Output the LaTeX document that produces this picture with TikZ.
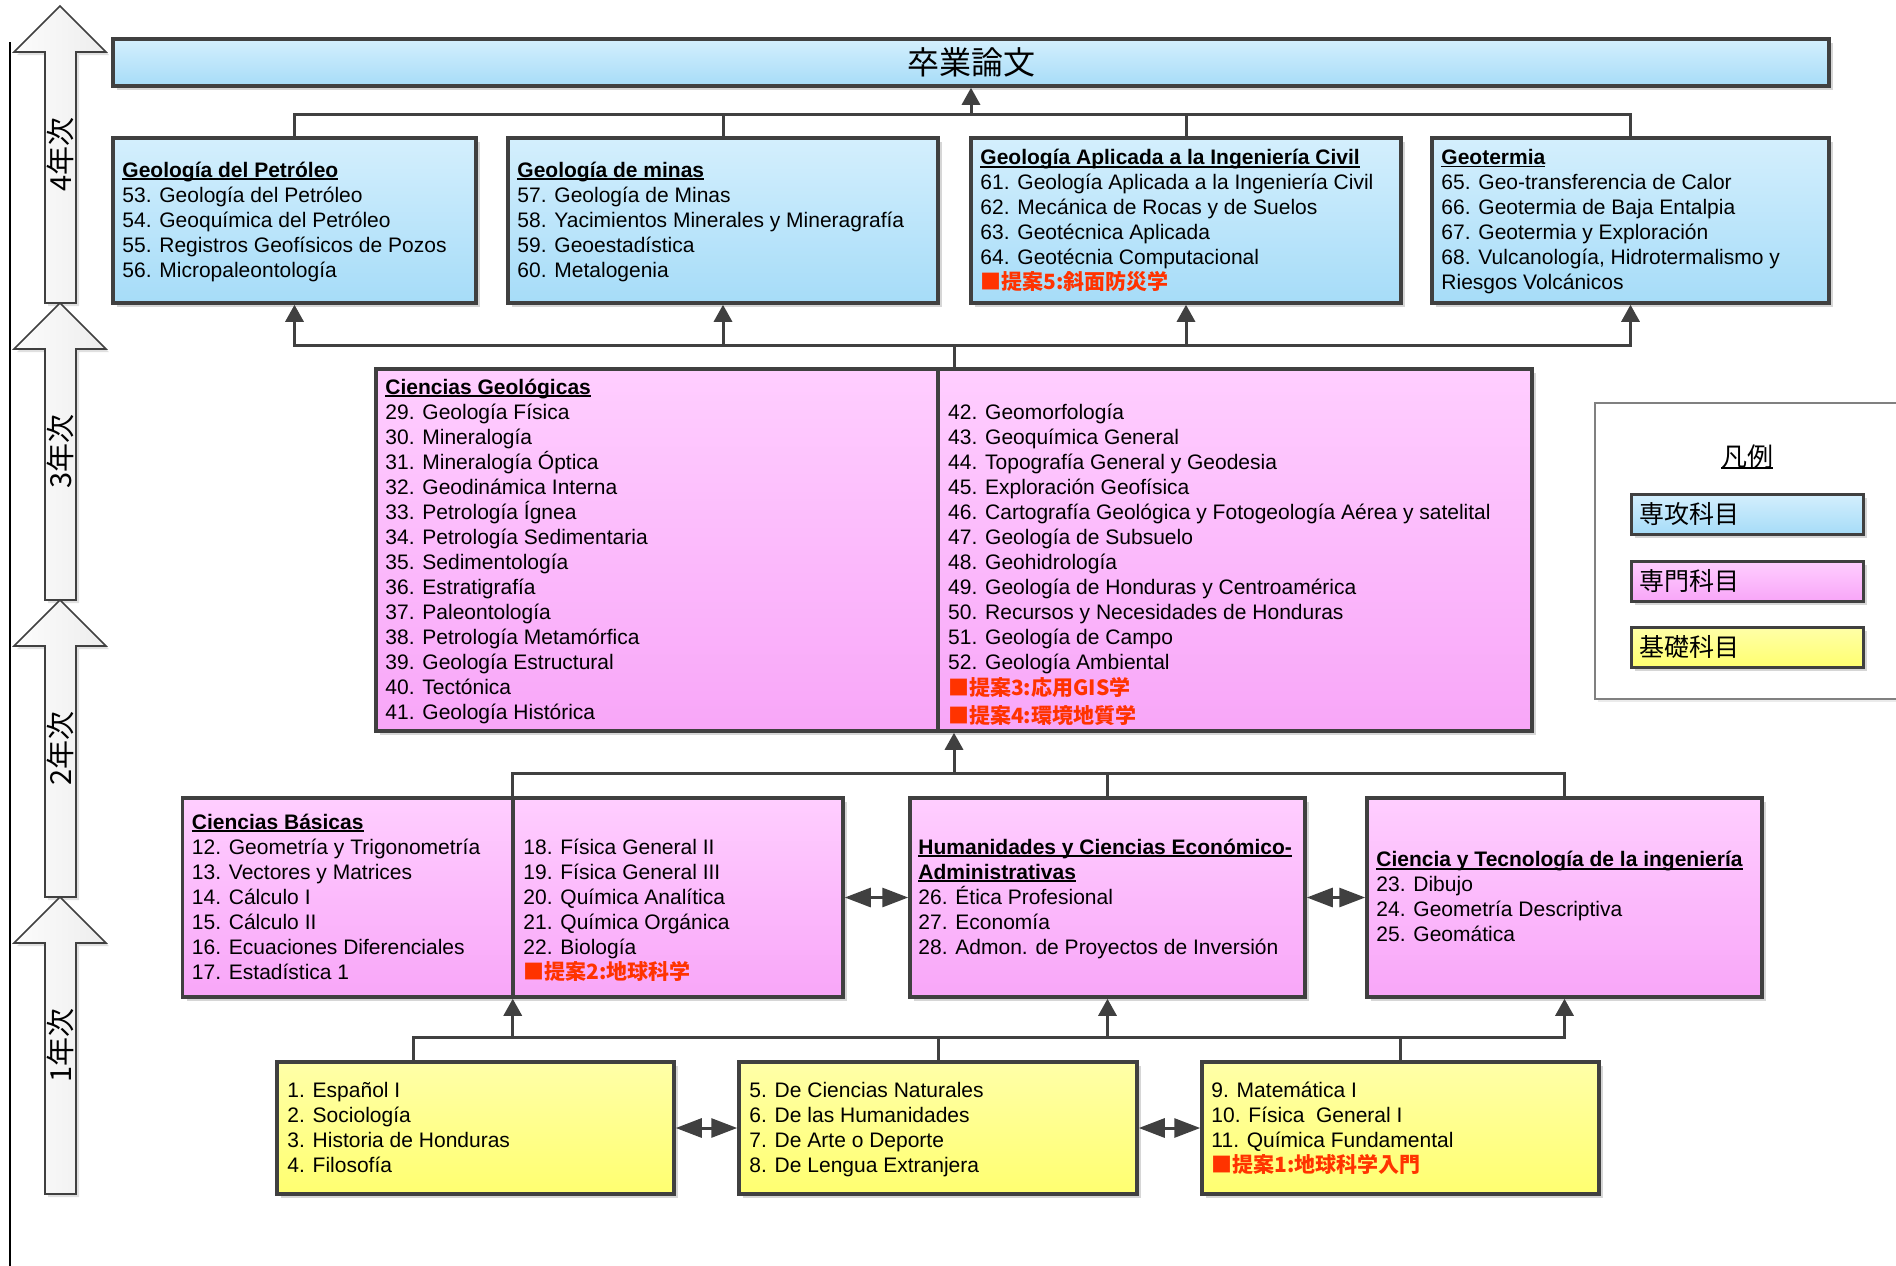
\documentclass[tikz,border=0pt]{standalone}
\usepackage{fontspec}
\setmainfont{Liberation Sans}
\newfontfamily\jp{Noto Sans CJK JP}
\usetikzlibrary{arrows.meta,shadows}

\definecolor{edge}{HTML}{404040}
\definecolor{blueT}{HTML}{D4EFFD}
\definecolor{blueB}{HTML}{A6DCF8}
\definecolor{pinkT}{HTML}{FFCEFF}
\definecolor{pinkB}{HTML}{F8A6F8}
\definecolor{yelT}{HTML}{FFFFA8}
\definecolor{yelB}{HTML}{FFFF70}
\definecolor{redtxt}{HTML}{FF3300}

% underlined text with the rule just under the baseline
\newcommand\ulc[1]{\setbox0=\hbox{#1}\rlap{\rule[-2.6pt]{\wd0}{1.6pt}}\box0}
\newcommand\hdr[1]{\ulc{\bfseries #1}}
% red proposal lines
\newcommand\prop[1]{{\jp\bfseries\color{redtxt}#1}}

\tikzset{
  box/.style={rectangle, draw=edge, line width=3.5pt, inner sep=0pt,
    drop shadow={shadow xshift=4pt, shadow yshift=-4pt, fill=black, opacity=0.16}},
  major/.style={box, top color=blueT, bottom color=blueB},
  special/.style={box, top color=pinkT, bottom color=pinkB},
  basic/.style={box, top color=yelT, bottom color=yelB},
  body/.style={anchor=west, align=left, inner sep=0pt, yshift=-3pt,
    font=\fontsize{21}{25}\selectfont,
    execute at begin node=\strut, execute at end node=\strut},
  conn/.style={draw=edge, line width=3pt},
  divline/.style={draw=edge, line width=3.5pt},
  rise/.style={conn, -{Triangle[length=17pt,width=18pt]}},
  mutual/.style={conn, {Triangle[length=26pt,width=19pt]}-{Triangle[length=26pt,width=19pt]}},
  yeararrow/.style={draw=edge, line width=1.6pt, left color=gray!2, right color=gray!14,
    drop shadow={shadow xshift=3pt, shadow yshift=-3pt, fill=black, opacity=0.12}},
  yearlabel/.style={rotate=90, inner sep=0pt, font=\jp\fontsize{29}{30}\selectfont},
  legframe/.style={rectangle, draw=gray, line width=1.5pt, fill=white,
    drop shadow={shadow xshift=3pt, shadow yshift=-3pt, fill=black, opacity=0.08}},
  legtext/.style={anchor=west, inner sep=0pt, font=\jp\fontsize{25}{28}\selectfont},
}

\begin{document}
\lineskiplimit=-100pt
\begin{tikzpicture}[x=1pt,y=-1pt]
\useasboundingbox (0,0) rectangle (1896,1266);
\fill[white] (0,0) rectangle (1896,1266);

% time axis
\draw[line width=2pt] (10,42) -- (10,1266);
\foreach \yr/\ya in {4/6, 3/303, 2/600, 1/897} {
  \path[yeararrow] (60,\ya) -- (106,\ya+46) -- (76,\ya+46) -- (76,\ya+297)
     -- (45,\ya+297) -- (45,\ya+46) -- (14,\ya+46) -- cycle;
  \node[yearlabel] (year\yr) at (60,\ya+148.5) {\yr 年次};
}

% thesis
\node[major, minimum width=1716pt, minimum height=47pt] (thesis) at (971,62.5) {};
\node[inner sep=0pt, font=\jp\fontsize{32}{34}\selectfont] (thesisT) at (thesis.center) {卒業論文};

% fourth year specialisations
\node[major, minimum width=363pt, minimum height=165pt] (petro) at (294.5,220.5) {};
\node[major, minimum width=430pt, minimum height=165pt] (minas) at (723,220.5) {};
\node[major, minimum width=430pt, minimum height=165pt] (civil) at (1186,220.5) {};
\node[major, minimum width=397pt, minimum height=165pt] (geot) at (1630.5,220.5) {};

\node[body] (petroT) at ([xshift=11pt]petro.west) {\hdr{Geología del Petróleo}\\53. Geología del Petróleo\\54. Geoquímica del Petróleo\\55. Registros Geofísicos de Pozos\\56. Micropaleontología};
\node[body] (minasT) at ([xshift=11pt]minas.west) {\hdr{Geología de minas}\\57. Geología de Minas\\58. Yacimientos Minerales y Mineragrafía\\59. Geoestadística\\60. Metalogenia};
\node[body] (civilT) at ([xshift=11pt]civil.west) {\hdr{Geología Aplicada a la Ingeniería Civil}\\61. Geología Aplicada a la Ingeniería Civil\\62. Mecánica de Rocas y de Suelos\\63. Geotécnica Aplicada\\64. Geotécnia Computacional\\\prop{■提案5:斜面防災学}};
\node[body] (geotT) at ([xshift=11pt]geot.west) {\hdr{Geotermia}\\65. Geo-transferencia de Calor\\66. Geotermia de Baja Entalpia\\67. Geotermia y Exploración\\68. Vulcanología, Hidrotermalismo y\\Riesgos Volcánicos};

% geological sciences
\node[special, minimum width=1156pt, minimum height=362pt] (cg) at (954,550) {};
\coordinate (cgdiv) at (938,550);
\draw[divline] (cg.north -| cgdiv) -- (cg.south -| cgdiv);
\node[body] (cgL) at ([xshift=11pt]cg.west) {\hdr{Ciencias Geológicas}\\29. Geología Física\\30. Mineralogía\\31. Mineralogía Óptica\\32. Geodinámica Interna\\33. Petrología Ígnea\\34. Petrología Sedimentaria\\35. Sedimentología\\36. Estratigrafía\\37. Paleontología\\38. Petrología Metamórfica\\39. Geología Estructural\\40. Tectónica\\41. Geología Histórica};
\node[body] (cgR) at ([xshift=10pt,yshift=-14.5pt]cgdiv) {42. Geomorfología\\43. Geoquímica General\\44. Topografía General y Geodesia\\45. Exploración Geofísica\\46. Cartografía Geológica y Fotogeología Aérea y satelital\\47. Geología de Subsuelo\\48. Geohidrología\\49. Geología de Honduras y Centroamérica\\50. Recursos y Necesidades de Honduras\\51. Geología de Campo\\52. Geología Ambiental\\[1.5pt]\prop{■提案3:応用GIS学}\\[2.5pt]\prop{■提案4:環境地質学}};

% second year groups
\node[special, minimum width=660.5pt, minimum height=199pt] (cb) at (512.75,897.5) {};
\draw[divline] (cb.north) -- (cb.south);
\node[special, minimum width=395pt, minimum height=199pt] (hum) at (1107.5,897.5) {};
\node[special, minimum width=395pt, minimum height=199pt] (ct) at (1564.5,897.5) {};

\node[body] (cbL) at ([xshift=11pt]cb.west) {\hdr{Ciencias Básicas}\\12. Geometría y Trigonometría\\13. Vectores y Matrices\\14. Cálculo I\\15. Cálculo II\\16. Ecuaciones Diferenciales\\17. Estadística 1};
\node[body] (cbR) at ([xshift=10.5pt,yshift=-12.5pt]cb.center) {18. Física General II\\19. Física General III\\20. Química Analítica\\21. Química Orgánica\\22. Biología\\\prop{■提案2:地球科学}};
\node[body] (humT) at ([xshift=10pt]hum.west) {\hdr{Humanidades y Ciencias Económico-}\\\hdr{Administrativas}\\26. Ética Profesional\\27. Economía\\28. Admon. de Proyectos de Inversión};
\node[body] (ctT) at ([xshift=11pt]ct.west) {\hdr{Ciencia y Tecnología de la ingeniería}\\23. Dibujo\\24. Geometría Descriptiva\\25. Geomática};

% first year groups
\node[basic, minimum width=397pt, minimum height=132pt] (b1) at (475.5,1128) {};
\node[basic, minimum width=398pt, minimum height=132pt] (b2) at (938,1128) {};
\node[basic, minimum width=397pt, minimum height=132pt] (b3) at (1400.5,1128) {};
\node[body] (b1T) at ([xshift=12pt]b1.west) {1. Español I\\2. Sociología\\3. Historia de Honduras\\4. Filosofía};
\node[body] (b2T) at ([xshift=12pt]b2.west) {5. De Ciencias Naturales\\6. De las Humanidades\\7. De Arte o Deporte\\8. De Lengua Extranjera};
\node[body] (b3T) at ([xshift=11pt]b3.west) {9. Matemática I\\10. Física\ \ General I\\11. Química Fundamental\\\prop{■提案1:地球科学入門}};

% legend
\node[legframe, minimum width=305pt, minimum height=296pt] (leg) at (1747.5,551) {};
\node[anchor=base, inner sep=0pt, font=\jp\fontsize{26}{28}\selectfont] (legT) at (1747,466) {\ulc{凡例}};
\node[major, line width=3pt, minimum width=232pt, minimum height=40pt] (legA) at (1747,514) {};
\node[special, line width=3pt, minimum width=232pt, minimum height=40pt] (legB) at (1747,581) {};
\node[basic, line width=3pt, minimum width=232pt, minimum height=40pt] (legC) at (1747,647) {};
\node[legtext] (legAT) at ([xshift=10pt]legA.west) {専攻科目};
\node[legtext] (legBT) at ([xshift=10pt]legB.west) {専門科目};
\node[legtext] (legCT) at ([xshift=10pt]legC.west) {基礎科目};

% connectors: fourth year to thesis
\coordinate (bus4) at (971,114);
\draw[conn] (petro.north) -- (petro.north |- bus4) -- (geot.north |- bus4) -- (geot.north);
\draw[conn] (minas.north) -- (minas.north |- bus4);
\draw[conn] (civil.north) -- (civil.north |- bus4);
\draw[rise] (bus4) -- (thesis.south);

% connectors: geological sciences to fourth year
\coordinate (bus3) at (954,345);
\draw[conn] (cg.north) -- (bus3);
\draw[rise] (bus3) -- (bus3 -| petro.south) -- (petro.south);
\draw[rise] (bus3) -- (bus3 -| geot.south) -- (geot.south);
\draw[rise] (bus3 -| minas.south) -- (minas.south);
\draw[rise] (bus3 -| civil.south) -- (civil.south);

% connectors: second year to geological sciences
\coordinate (bus2) at (954,773);
\draw[conn] (cb.north) -- (cb.north |- bus2) -- (ct.north |- bus2) -- (ct.north);
\draw[conn] (hum.north) -- (hum.north |- bus2);
\draw[rise] (bus2) -- (cg.south);
\draw[mutual] (cb.east) -- (hum.west);
\draw[mutual] (hum.east) -- (ct.west);

% connectors: first year to second year
\coordinate (bus1) at (413,1037);
\draw[rise] (b1.north -| bus1) -- (bus1) -- (bus1 -| ct.south) -- (ct.south);
\draw[conn] (b2.north) -- (b2.north |- bus1);
\draw[conn] (b3.north) -- (b3.north |- bus1);
\draw[rise] (bus1 -| cb.south) -- (cb.south);
\draw[rise] (bus1 -| hum.south) -- (hum.south);
\draw[mutual] (b1.east) -- (b2.west);
\draw[mutual] (b2.east) -- (b3.west);
\end{tikzpicture}
\end{document}
